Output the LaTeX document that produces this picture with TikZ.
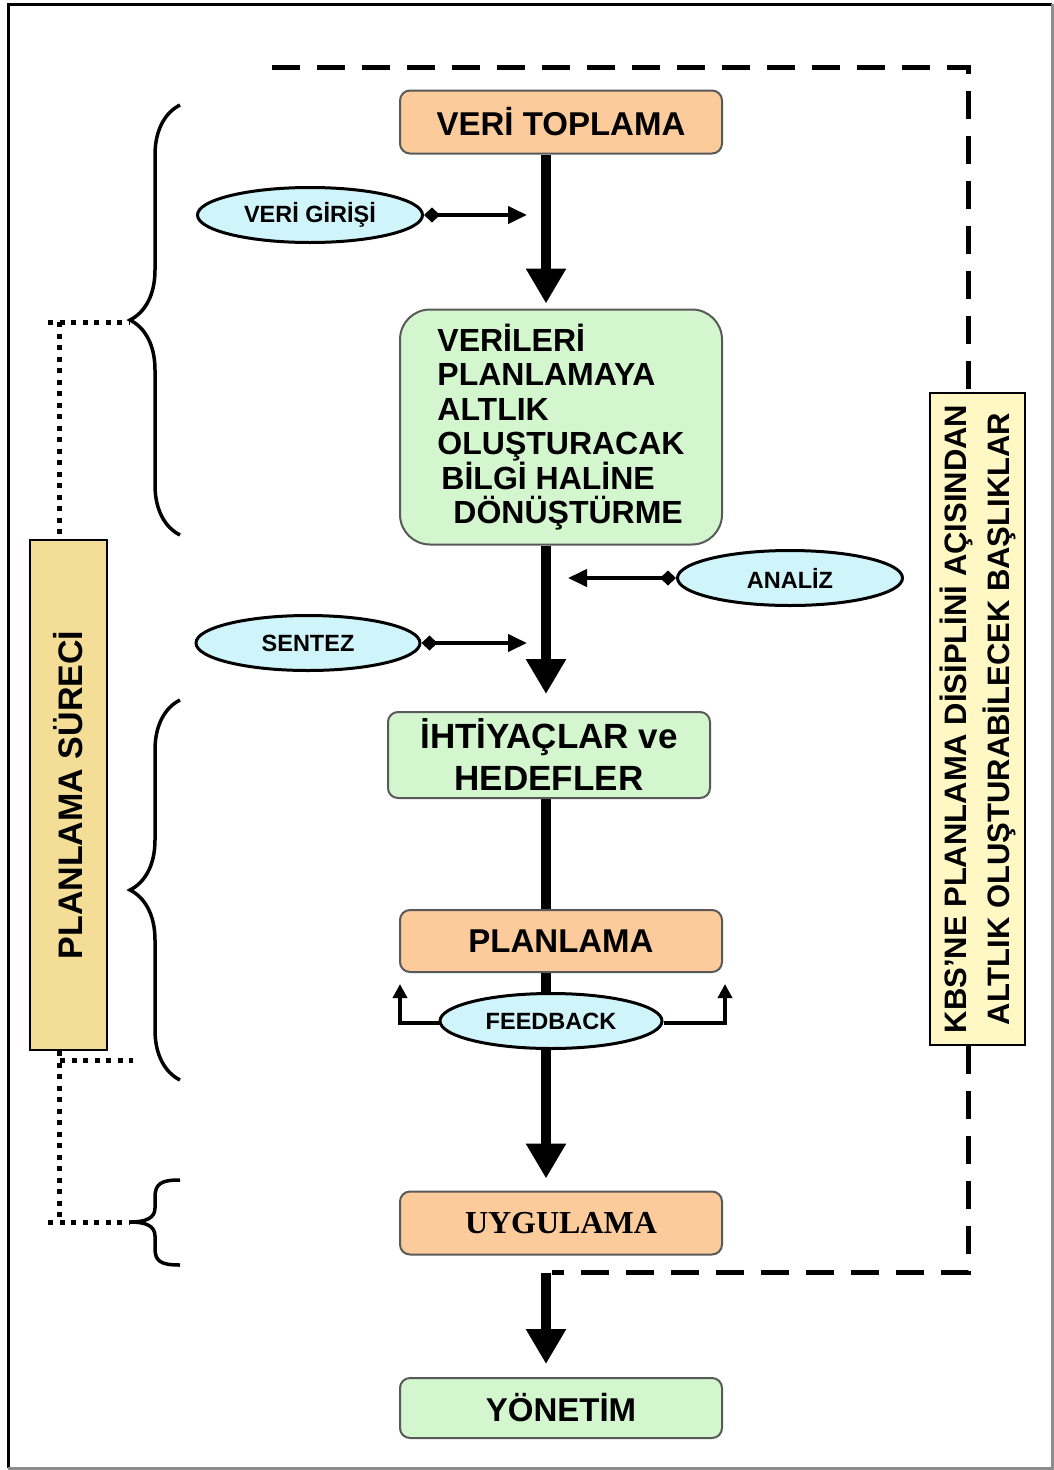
\documentclass[tikz,border=0pt]{standalone}
\usepackage{fontspec}
\setmainfont{Liberation Sans}
\newfontfamily\uygfont{Liberation Serif}
\usetikzlibrary{arrows.meta}
\usetikzlibrary{shapes.geometric}
\usetikzlibrary{decorations.pathreplacing}
\usetikzlibrary{backgrounds}

\definecolor{turuncu}{HTML}{FBCB9C}
\definecolor{yesil}{HTML}{D3F6CF}
\definecolor{mavi}{HTML}{CFF4FA}
\definecolor{sari}{HTML}{F4DD97}
\definecolor{acsari}{HTML}{FFF8C5}

\begin{document}
\begin{tikzpicture}[x=1pt,y=-1pt]
      \tikzset{
        kutu/.style={draw=black!65, line width=2pt, rounded corners=10pt,
          minimum width=322pt, text=black,
          font=\fontsize{33}{38}\selectfont\bfseries},
        turuncukutu/.style={kutu, fill=turuncu},
        yesilkutu/.style={kutu, fill=yesil},
        elips/.style={ellipse, draw, line width=3pt, fill=mavi,
          inner sep=0pt, font=\fontsize{23.5}{26}\selectfont\bfseries},
        dikey/.style={draw, line width=2pt, align=center, rotate=90, inner sep=0pt},
        anaok/.style={line width=10pt, -{Triangle[length=35pt,width=38pt]}},
        yanok/.style={line width=4pt,
          {Diamond[length=16pt,width=15pt]}-{Triangle[length=19pt,width=17pt]}},
        geriok/.style={line width=3.5pt, -{Triangle[length=14pt,width=14pt]}},
        kesik/.style={line width=5pt, dash pattern=on 28pt off 17pt},
        noktali/.style={line width=5pt, dash pattern=on 5pt off 6.5pt},
        parantez/.style={line width=3.5pt,
          decorate, decoration={brace, amplitude=50pt}},
      }
      \useasboundingbox (0,0) rectangle (1054,1470);
      \draw[line width=3pt] (8,1468) -- (8,4) -- (1052,4);
      \draw[line width=3pt, black!45] (1052,4) -- (1052,1468) -- (8,1468);

      \node[turuncukutu, minimum height=63pt] (vtop) at (561,122) {VERİ TOPLAMA};
      \node[yesilkutu, minimum height=235pt, rounded corners=30pt, align=left,
        font=\fontsize{32}{34.5}\selectfont\bfseries] (veri) at (561,427)
        {VERİLERİ\\PLANLAMAYA\\ALTLIK\\OLUŞTURACAK\\\hspace*{4pt}BİLGİ HALİNE\\\hspace*{16pt}DÖNÜŞTÜRME};
      \node[yesilkutu, minimum height=86pt, align=center,
        font=\fontsize{35}{42}\selectfont\bfseries] (iht) at (549,755)
        {İHTİYAÇLAR ve\\HEDEFLER};
      \node[turuncukutu, minimum height=62pt] (plan) at (561,941) {PLANLAMA};
      \node[turuncukutu, minimum height=63pt,
        font=\fontsize{32}{36}\uygfont\bfseries] (uyg) at (561,1223) {UYGULAMA};
      \node[yesilkutu, minimum height=60pt] (yon) at (561,1408) {YÖNETİM};

      \node[elips, minimum width=225pt, minimum height=55pt] (giris) at (310,215) {VERİ GİRİŞİ};
      \node[elips, minimum width=225pt, minimum height=55pt] (analiz) at (790,578) {ANALİZ};
      \node[elips, minimum width=224pt, minimum height=55pt] (sentez) at (308,643) {SENTEZ};
      \node[elips, minimum width=222pt, minimum height=55pt] (feed) at (551,1021) {FEEDBACK};

      \node[dikey, fill=sari, minimum width=510pt, minimum height=77pt,
        font=\fontsize{34}{38}\selectfont\bfseries] (surec) at (68.5,795) {PLANLAMA SÜRECİ};
      \node[dikey, fill=acsari, minimum width=652pt, minimum height=95pt,
        font=\fontsize{31}{43}\selectfont\bfseries] (kbs) at (977.5,719)
        {KBS'NE PLANLAMA DİSİPLİNİ AÇISINDAN\\ALTLIK OLUŞTURABİLECEK BAŞLIKLAR};

      \coordinate (girisuc) at (527,215);
      \coordinate (analizuc) at (568,578);
      \coordinate (sentezuc) at (527,643);
      \coordinate (solfb) at (400,984);
      \coordinate (sagfb) at (725,984);
      \coordinate (kesiksol) at (272,67);
      \coordinate (kesiksag) at (968,67);
      \coordinate (kesikalt) at (968,1272);
      \coordinate (kesikson) at (552,1272);

      \begin{pgfonlayer}{background}
        \draw[anaok, shorten >=5pt] ([xshift=-15pt]vtop.south) -- ([xshift=-15pt]veri.north);
        \draw[anaok, shorten >=17pt] ([xshift=-15pt]veri.south) -- ([xshift=-3pt]iht.north);
        \draw[line width=10pt] ([xshift=-3pt]iht.south) -- ([xshift=-15pt]plan.north);
        \draw[anaok, shorten >=12pt] ([xshift=-15pt]plan.south) -- ([xshift=-15pt]uyg.north);
        \draw[anaok, shorten <=17pt, shorten >=13pt] ([xshift=-15pt]uyg.south) -- ([xshift=-15pt]yon.north);
      \end{pgfonlayer}

      \draw[yanok] (giris.east) -- (girisuc);
      \draw[yanok] (analiz.west) -- (analizuc);
      \draw[yanok] (sentez.east) -- (sentezuc);
      \draw[geriok] ([yshift=-2pt]feed.west) -| (solfb);
      \draw[geriok] ([yshift=-2pt]feed.east) -| (sagfb);

      \draw[kesik] (kesiksol) -- (kesiksag) -- (kesiksag |- kbs.east);
      \draw[kesik] (kesiksag |- kbs.west) -- (kesikalt) -- (kesikson);

      \draw[parantez] (180,535) -- (180,105);
      \draw[parantez] (180,1080) -- (180,700);
      \draw[line width=3.5pt] (180,1180) .. controls (160,1180) and (155,1184) .. (155,1198)
        -- (155,1208) .. controls (155,1218) and (146,1222) .. (130,1222)
        .. controls (146,1222) and (155,1226) .. (155,1236)
        -- (155,1248) .. controls (155,1261) and (160,1265) .. (180,1265);

      \coordinate (n1) at (48,322);
      \coordinate (n1uc) at (130,322);
      \coordinate (n1dik) at (59,322);
      \coordinate (n2) at (60,1060);
      \coordinate (n2uc) at (133,1060);
      \coordinate (n3) at (48,1222);
      \coordinate (n3uc) at (130,1222);
      \coordinate (n3dik) at (59,1222);
      \draw[noktali] (n1) -- (n1uc);
      \draw[noktali] (n1dik) -- (n1dik |- surec.east);
      \draw[noktali] (n2) -- (n2uc);
      \draw[noktali] (n3dik |- surec.west) -- (n3dik);
      \draw[noktali] (n3) -- (n3uc);
\end{tikzpicture}
\end{document}
